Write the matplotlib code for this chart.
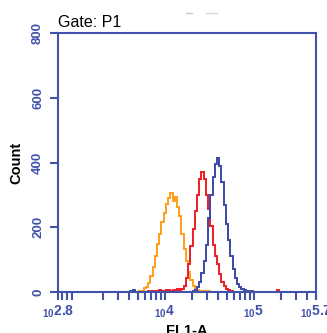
import numpy as np
import matplotlib
matplotlib.use("Agg")
import matplotlib.pyplot as plt
from matplotlib.lines import Line2D

# ---- data (log10 FL1-A bin centres, step 0.025) ----
bin_first_center = 3.5
bin_step = 0.025

orange_counts = [
    0, 0, 0, 0, 0, 0, 0, 0, 0, 2,            # 3.500 - 3.725
    4, 12, 16, 28, 50, 76, 112, 148, 180, 215,  # 3.750 - 3.975
    245, 272, 290, 306, 282, 292, 262, 235, 180, 132,  # 4.000 - 4.225
    95, 62, 36, 20, 10, 5, 3, 2, 3, 1,       # 4.250 - 4.475
    2, 0, 0, 0, 0, 0, 0, 0, 0, 0,            # 4.500 - 4.725
    0, 0, 0, 0, 0, 0, 0, 0, 0, 0,            # 4.750 - 4.975
    0, 0, 0, 0, 0, 0, 0, 0, 0, 0,            # 5.000 - 5.225
    0, 0, 0,                                 # 5.250 - 5.300
]
red_counts = [
    0, 0, 0, 0, 0, 0, 0, 0, 0, 0,            # 3.500 - 3.725
    0, 0, 0, 2, 3, 2, 4, 3, 5, 4,            # 3.750 - 3.975
    3, 6, 5, 4, 5, 6, 8, 7, 10, 18,          # 4.000 - 4.225
    42, 85, 142, 195, 250, 300, 350, 372, 348, 300,  # 4.250 - 4.475
    255, 205, 145, 110, 85, 55, 30, 18, 10, 5,       # 4.500 - 4.725
    2, 0, 0, 0, 0, 0, 0, 0, 0, 0,            # 4.750 - 4.975
    0, 0, 0, 0, 0, 0, 0, 0, 0, 0,            # 5.000 - 5.225
    0, 5, 0,                                 # 5.250 - 5.300
]
blue_counts = [
    0, 0, 0, 0, 0, 4, 5, 0, 0, 0,            # 3.500 - 3.725
    0, 0, 0, 0, 0, 0, 0, 0, 0, 0,            # 3.750 - 3.975
    0, 0, 0, 0, 0, 0, 0, 0, 0, 0,            # 4.000 - 4.225
    0, 0, 0, 2, 5, 14, 30, 60, 95, 145,      # 4.250 - 4.475
    230, 300, 355, 395, 413, 390, 340, 270, 210, 160,  # 4.500 - 4.725
    110, 70, 42, 26, 16, 10, 6, 4, 3, 2,     # 4.750 - 4.975
    1, 0, 0, 0, 0, 0, 0, 0, 0, 0,            # 5.000 - 5.225
    0, 0, 0,                                 # 5.250 - 5.300
]

y_ticks = [0, 200, 400, 600, 800]
x_label_exps = ["2.8", "4", "5", "5.7"]

AXIS_BLUE = "#4052aa"
ORANGE = "#ff9f1a"
RED = "#ee1c24"
BLUE = "#3a4aa6"

plt.rcParams["font.family"] = ["Liberation Sans", "DejaVu Sans"]
plt.rcParams["mathtext.fontset"] = "custom"
plt.rcParams["mathtext.rm"] = "Liberation Sans:bold"
plt.rcParams["mathtext.default"] = "rm"

fig = plt.figure(figsize=(3.27, 3.33), dpi=100)
ax = fig.add_axes([58 / 327, 41 / 333, 258 / 327, 259 / 333])

n = len(orange_counts)
log_edges = bin_first_center - bin_step / 2 + bin_step * np.arange(n + 1)
edges = 10 ** log_edges

ax.stairs(orange_counts, edges, color=ORANGE, lw=1.4, zorder=2)
ax.stairs(red_counts, edges, color=RED, lw=1.4, zorder=2.1)
ax.stairs(blue_counts, edges, color=BLUE, lw=1.4, zorder=2.2)

ax.set_xscale("log")
ax.set_xlim(10 ** 2.8, 10 ** 5.7)
ax.set_ylim(0, 800)

for s in ax.spines.values():
    s.set_color(AXIS_BLUE)
    s.set_linewidth(1.5)
    s.set_zorder(3)

ax.set_yticks(y_ticks)
ax.set_yticklabels([str(v) for v in y_ticks], rotation=90, va="center",
                   fontsize=9.5, fontweight="bold", color=AXIS_BLUE)
ax.tick_params(axis="y", length=6, width=1.5, color=AXIS_BLUE, pad=4)

major_pos = [10 ** float(e) for e in x_label_exps]
ax.set_xticks(major_pos)
ax.set_xticklabels([r"$_{10}$" + e for e in x_label_exps],
                   fontsize=10, fontweight="bold", color=AXIS_BLUE)
minor = []
for dec in [100, 1000, 10000, 100000]:
    for m in range(2, 10):
        v = m * dec
        if 10 ** 2.8 < v < 10 ** 5.7 and v not in major_pos:
            minor.append(v)
ax.set_xticks(minor, minor=True)
ax.tick_params(axis="x", which="both", length=5.5, width=1.5,
               color=AXIS_BLUE, pad=3)
ax.xaxis.set_minor_formatter(matplotlib.ticker.NullFormatter())

ax.set_ylabel("Count", fontsize=10.5, fontweight="bold", labelpad=6)
ax.set_xlabel("FL1-A", fontsize=10.5, fontweight="bold", labelpad=3)
ax.set_title("Gate: P1", loc="left", fontsize=11.5, pad=4)

fig.add_artist(Line2D([186 / 327, 192 / 327], [1 - 12.5 / 333] * 2,
                      color="#c8c8c8", lw=1))
fig.add_artist(Line2D([206 / 327, 217 / 327], [1 - 12.5 / 333] * 2,
                      color="#d8d8d8", lw=1))

fig.savefig("out.png", dpi=100)
